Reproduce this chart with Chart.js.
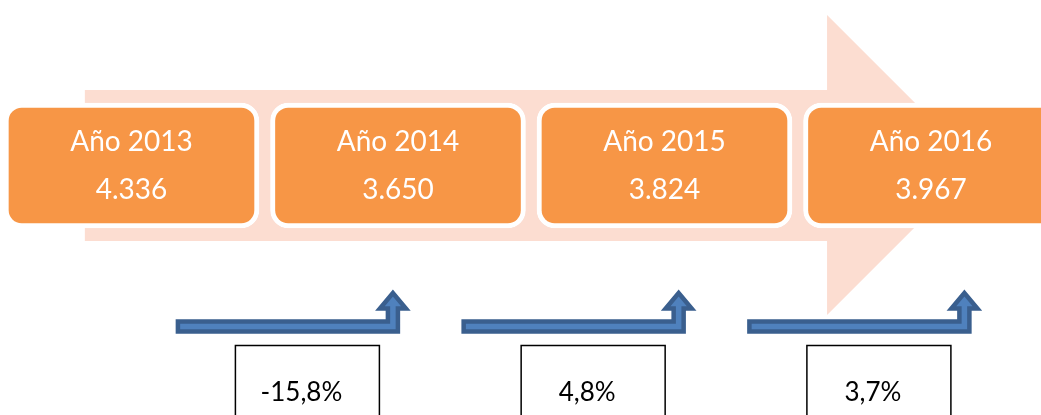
<!DOCTYPE html>
<html>
<head>
<meta charset="utf-8">
<script src="https://cdn.jsdelivr.net/npm/chart.js@4"></script>
<style>
  html, body { margin: 0; padding: 0; background: #fff; }
  #wrap { width: 1041px; height: 415px; position: relative; }
</style>
</head>
<body>
<div id="wrap"><canvas id="timeline"></canvas></div>
<script>
// Data
const years = ['Año 2013', 'Año 2014', 'Año 2015', 'Año 2016'];
const totals = [4336, 3650, 3824, 3967];
const changes = [-15.8, 4.8, 3.7];

// Colours
const ORANGE = '#F79646';
const PALE = '#FCDDD1';
const BLUE = '#4F81BD';
const BLUE_DARK = '#3A5F8E';

// Layout (y axis runs in page pixels, top = 0)
const BOX_TOP = 103, BOX_BOTTOM = 228;
const PCT_Y = 401;

const fmtTotal = v => Math.floor(v / 1000) + '.' + String(v % 1000).padStart(3, '0');
const fmtChange = v => v.toFixed(1).replace('.', ',') + '%';

const timelineArt = {
    id: 'timelineArt',
    beforeDatasetsDraw(chart) {
        const { ctx, scales: { x, y } } = chart;
        // big pale arrow behind the year boxes
        const left = x.getPixelForValue(-0.175);
        const base = x.getPixelForValue(2.61);
        const tip = x.getPixelForValue(3.173);
        ctx.save();
        ctx.fillStyle = PALE;
        ctx.beginPath();
        ctx.moveTo(left, y.getPixelForValue(90));
        ctx.lineTo(base, y.getPixelForValue(90));
        ctx.lineTo(base, y.getPixelForValue(15));
        ctx.lineTo(tip, y.getPixelForValue(165));
        ctx.lineTo(base, y.getPixelForValue(315));
        ctx.lineTo(base, y.getPixelForValue(241));
        ctx.lineTo(left, y.getPixelForValue(241));
        ctx.closePath();
        ctx.fill();
        ctx.restore();
    },
    afterDatasetsDraw(chart) {
        const { ctx, scales: { y } } = chart;
        ctx.save();

        // labels inside the orange boxes
        ctx.fillStyle = '#fff';
        ctx.textAlign = 'center';
        ctx.textBaseline = 'alphabetic';
        ctx.font = '28px Lato';
        chart.getDatasetMeta(0).data.forEach((bar, i) => {
            ctx.fillText(years[i], bar.x, y.getPixelForValue(151));
            ctx.fillText(fmtTotal(totals[i]), bar.x, y.getPixelForValue(199));
        });

        // bent-up arrows and change boxes
        chart.getDatasetMeta(1).data.forEach((pt, k) => {
            const cx = pt.x;
            const L = cx - 129.5, tip = cx + 85.5;
            const top = y.getPixelForValue(321.5), bot = y.getPixelForValue(331.5);
            const headBase = y.getPixelForValue(308.5), tipY = y.getPixelForValue(293);
            ctx.beginPath();
            ctx.moveTo(L, top);
            ctx.lineTo(tip - 5, top);
            ctx.lineTo(tip - 5, headBase);
            ctx.lineTo(tip - 13, headBase);
            ctx.lineTo(tip, tipY);
            ctx.lineTo(tip + 13, headBase);
            ctx.lineTo(tip + 5, headBase);
            ctx.lineTo(tip + 5, bot);
            ctx.lineTo(L, bot);
            ctx.closePath();
            ctx.fillStyle = BLUE;
            ctx.fill();
            ctx.lineWidth = 4.5;
            ctx.strokeStyle = BLUE_DARK;
            ctx.lineJoin = 'miter';
            ctx.stroke();

            ctx.fillStyle = '#fff';
            ctx.fillRect(cx - 72, y.getPixelForValue(345.5), 144, 80);
            ctx.lineWidth = 1.5;
            ctx.strokeStyle = '#000';
            ctx.strokeRect(cx - 72, y.getPixelForValue(345.5), 144, 80);

            ctx.fillStyle = '#000';
            ctx.font = '26px Lato';
            ctx.fillText(fmtChange(changes[k]), cx - 6, pt.y);
        });
        ctx.restore();
    }
};

new Chart(document.getElementById('timeline'), {
    type: 'bar',
    data: {
        datasets: [{
            data: totals.map((v, i) => ({ x: i, y: [BOX_TOP, BOX_BOTTOM] })),
            backgroundColor: ORANGE,
            borderColor: '#fff',
            borderWidth: 5,
            borderSkipped: false,
            borderRadius: 18,
            barThickness: 255,
            grouped: false,
            clip: false
        }, {
            type: 'scatter',
            xAxisID: 'x2',
            data: changes.map((v, k) => ({ x: k, y: PCT_Y })),
            pointRadius: 0
        }]
    },
    options: {
        responsive: true,
        maintainAspectRatio: false,
        animation: false,
        layout: { padding: 0 },
        plugins: { legend: { display: false }, tooltip: { enabled: false } },
        scales: {
            x: { type: 'linear', display: false, offset: false, min: -0.4934, max: 3.4128 },
            x2: { type: 'linear', display: false, offset: false, min: -1.0758, max: 2.5673 },
            y: { type: 'linear', display: false, min: 0, max: 415, reverse: true }
        }
    },
    plugins: [timelineArt]
});
</script>
</body>
</html>
